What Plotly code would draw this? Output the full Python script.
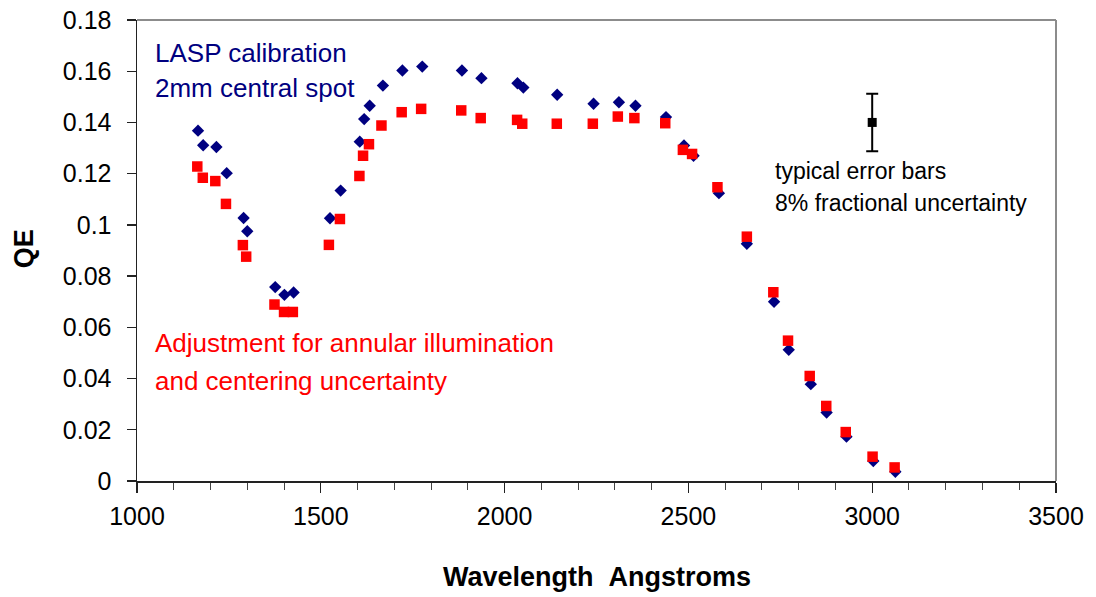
import plotly.graph_objects as go

# ---- data ----
lasp_x = [1166, 1180, 1216, 1244, 1290, 1300, 1376, 1401, 1426, 1525, 1554, 1606, 1618, 1633,
          1669, 1722, 1776, 1884, 1937, 2035, 2051, 2143, 2242, 2311, 2356, 2439, 2488, 2514,
          2583, 2659, 2733, 2773, 2833, 2876, 2930, 3003, 3063]
lasp_qe = [0.1368, 0.1311, 0.1304, 0.1202, 0.1027, 0.0975, 0.0757, 0.0727, 0.0736, 0.1026,
           0.1134, 0.1325, 0.1413, 0.1465, 0.1544, 0.1603, 0.1618, 0.1603, 0.1573, 0.1553,
           0.1536, 0.1508, 0.1473, 0.1479, 0.1465, 0.1421, 0.1310, 0.1270, 0.1124, 0.0926,
           0.0700, 0.0512, 0.0378, 0.0267, 0.0173, 0.0078, 0.0036]

adj_x = [1164, 1179, 1213, 1242, 1288, 1297, 1374, 1400, 1424, 1522, 1552, 1605, 1615, 1631,
         1665, 1720, 1773, 1882, 1935, 2034, 2048, 2142, 2240, 2308, 2353, 2437, 2485, 2510,
         2579, 2659, 2731, 2771, 2830, 2875, 2928, 3001, 3061]
adj_qe = [0.1228, 0.1184, 0.1171, 0.1082, 0.0921, 0.0876, 0.0689, 0.0660, 0.0660, 0.0922,
          0.1023, 0.1191, 0.1270, 0.1315, 0.1388, 0.1440, 0.1453, 0.1447, 0.1417, 0.1410,
          0.1395, 0.1395, 0.1395, 0.1423, 0.1417, 0.1397, 0.1293, 0.1277, 0.1147, 0.0954,
          0.0737, 0.0548, 0.0410, 0.0293, 0.0191, 0.0095, 0.0053]

err_x = [3000]
err_qe = [0.14]
err_frac = 0.08
err_size = [v * err_frac for v in err_qe]

y_tickvals = [0, 0.02, 0.04, 0.06, 0.08, 0.1, 0.12, 0.14, 0.16, 0.18]
y_ticktext = ["0", "0.02", "0.04", "0.06", "0.08", "0.1", "0.12", "0.14", "0.16", "0.18"]
x_tickvals = [1000, 1500, 2000, 2500, 3000, 3500]
x_ticktext = ["1000", "1500", "2000", "2500", "3000", "3500"]

FONT = "Liberation Sans, Arial, sans-serif"
BLUE = "#000080"
RED = "#FF0000"

fig = go.Figure()
fig.add_trace(go.Scatter(x=lasp_x, y=lasp_qe, mode="markers",
                         marker=dict(symbol="diamond", size=9.5, color=BLUE),
                         name="LASP calibration", showlegend=False))
fig.add_trace(go.Scatter(x=adj_x, y=adj_qe, mode="markers",
                         marker=dict(symbol="square", size=10.5, color=RED),
                         name="Adjustment", showlegend=False))
fig.add_trace(go.Scatter(x=err_x, y=err_qe, mode="markers",
                         marker=dict(symbol="square", size=9, color="black"),
                         error_y=dict(type="data", array=err_size, visible=True,
                                      color="black", thickness=2, width=6),
                         showlegend=False))

fig.update_layout(
    width=1096, height=597,
    margin=dict(l=137, r=40, t=20, b=116, autoexpand=False),
    paper_bgcolor="white", plot_bgcolor="white",
    font=dict(family=FONT, color="black"),
    showlegend=False,
)

fig.update_xaxes(
    range=[1000, 3500], tickvals=x_tickvals, ticktext=x_ticktext,
    ticks="outside", ticklen=10, tickwidth=1.3, tickcolor="#222",
    minor=dict(dtick=100, ticks="outside", ticklen=7, tickwidth=1, tickcolor="#444"),
    showline=True, linecolor="#222", linewidth=1.5,
    showgrid=False, zeroline=False, automargin=False,
    tickfont=dict(size=25, family=FONT, color="black"),
    ticklabelstandoff=2, ticklabeloverflow="allow",
)
fig.update_yaxes(
    range=[0, 0.18], tickvals=y_tickvals, ticktext=y_ticktext,
    ticks="outside", ticklen=9, tickwidth=1.3, tickcolor="#222",
    showline=True, linecolor="#222", linewidth=1.5,
    showgrid=False, zeroline=False, automargin=False,
    tickfont=dict(size=25, family=FONT, color="black"),
    ticklabelstandoff=10, ticklabeloverflow="allow",
)

# gray top / right frame
fig.add_shape(type="line", xref="paper", yref="paper", x0=0, x1=1, y0=1, y1=1,
              line=dict(color="#8c8c8c", width=2))
fig.add_shape(type="line", xref="paper", yref="paper", x0=1, x1=1, y0=0, y1=1,
              line=dict(color="#8c8c8c", width=2))

def ann(text, x, y, color, size, bold=False, xanchor="left", textangle=0):
    fig.add_annotation(text=f"<b>{text}</b>" if bold else text,
                       xref="paper", yref="paper", x=x, y=y,
                       xanchor=xanchor, yanchor="middle", showarrow=False,
                       textangle=textangle,
                       font=dict(family=FONT, size=size, color=color))

ann("LASP calibration", 0.0174, 0.928, BLUE, 26)
ann("2mm central spot", 0.0174, 0.852, BLUE, 26)
ann("Adjustment for annular illumination", 0.0174, 0.300, RED, 26)
ann("and centering uncertainty", 0.0174, 0.218, RED, 26)
ann("typical error bars", 0.692, 0.672, "black", 23)
ann("8% fractional uncertainty", 0.692, 0.602, "black", 23)
ann("Wavelength&nbsp;&nbsp;Angstroms", 0.5, -0.208, "black", 27, bold=True, xanchor="center")
ann("QE", -0.123, 0.505, "black", 27, bold=True, xanchor="center", textangle=-90)

fig.write_html("out.html",
               config={"displayModeBar": False, "staticPlot": True},
               post_script="document.body.style.margin='0';document.body.style.overflow='hidden';")
